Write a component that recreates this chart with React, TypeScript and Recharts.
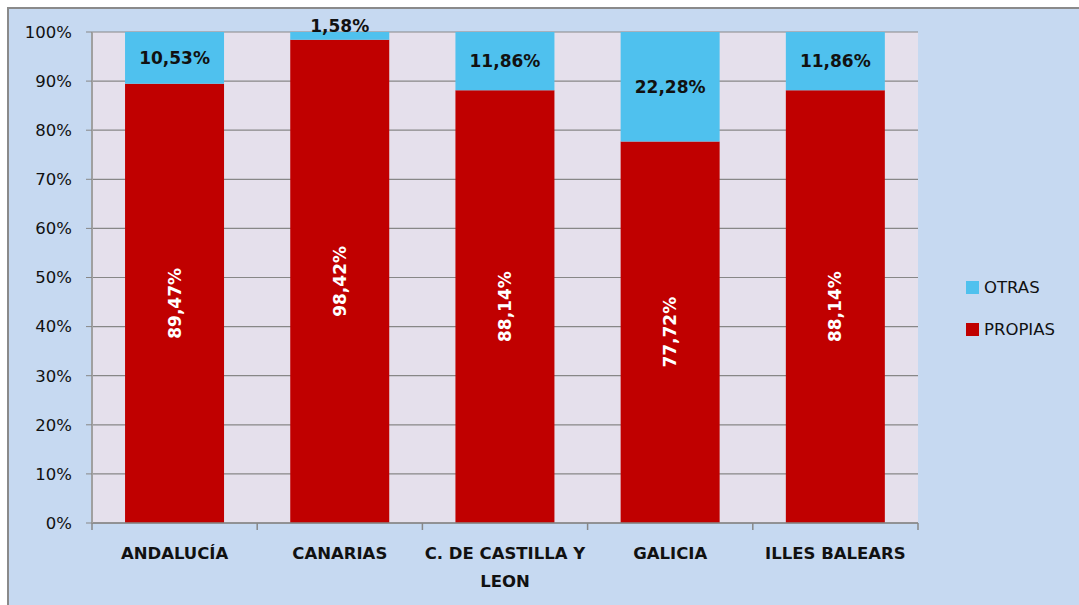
import React from 'react';
import { BarChart, Bar, XAxis, YAxis, CartesianGrid, Legend, LabelList, Text } from 'recharts';

const categories = ['ANDALUCÍA', 'CANARIAS', 'C. DE CASTILLA Y LEON', 'GALICIA', 'ILLES BALEARS'];
const propias = [89.47, 98.42, 88.14, 77.72, 88.14];
const otras = [10.53, 1.58, 11.86, 22.28, 11.86];
const yTicks = [0, 10, 20, 30, 40, 50, 60, 70, 80, 90, 100];
const legendOrder = ['OTRAS', 'PROPIAS'];

const data = categories.map((name, i) => ({ name, PROPIAS: propias[i], OTRAS: otras[i] }));

const FONT = '"DejaVu Sans", sans-serif';
const fmt = (v: number) => v.toFixed(2).replace('.', ',') + '%';

const XTick = (props: any) => {
  const { x, y, payload, index } = props;
  const off = payload && typeof payload.offset === 'number' ? payload.offset : 82.6;
  return (
    <g>
      <line x1={x - off} y1={y} x2={x - off} y2={y + 7} stroke="#878787" strokeWidth={1.5} />
      {index === categories.length - 1 && (
        <line x1={x + off} y1={y} x2={x + off} y2={y + 7} stroke="#878787" strokeWidth={1.5} />
      )}
      <Text
        x={x}
        y={y + 24}
        width={158}
        textAnchor="middle"
        verticalAnchor="start"
        lineHeight={28}
        fontFamily={FONT}
        fontWeight="bold"
        fontSize={16.5}
        fill="#111"
      >
        {payload.value}
      </Text>
    </g>
  );
};

const PropiasLabel = (props: any) => {
  const { x, y, width, height, value } = props;
  const cx = x + width / 2;
  const cy = y + height / 2;
  return (
    <text
      x={cx}
      y={cy}
      transform={`rotate(-90 ${cx} ${cy})`}
      textAnchor="middle"
      dominantBaseline="central"
      fontFamily={FONT}
      fontWeight="bold"
      fontSize={17}
      fill="#ffffff"
    >
      {fmt(value)}
    </text>
  );
};

const OtrasLabel = (props: any) => {
  const { x, y, width, height, value } = props;
  const cx = x + width / 2;
  const cy = height < 20 ? y - 6 : y + height / 2;
  return (
    <text
      x={cx}
      y={cy}
      textAnchor="middle"
      dominantBaseline="central"
      fontFamily={FONT}
      fontWeight="bold"
      fontSize={17}
      fill="#111"
    >
      {fmt(value)}
    </text>
  );
};

const LegendContent = (props: any) => {
  const items = [...(props.payload || [])].sort(
    (a: any, b: any) => legendOrder.indexOf(a.value) - legendOrder.indexOf(b.value)
  );
  return (
    <div style={{ fontFamily: FONT, fontSize: 16.5, color: '#111' }}>
      {items.map((it: any) => (
        <div key={it.value} style={{ display: 'flex', alignItems: 'center', height: 42 }}>
          <span style={{ display: 'inline-block', width: 13, height: 13, background: it.color, marginRight: 5 }} />
          <span>{it.value}</span>
        </div>
      ))}
    </div>
  );
};

export default function App() {
  return (
    <div
      style={{
        position: 'absolute',
        left: 7,
        top: 7,
        width: 1072,
        height: 598,
        overflow: 'hidden',
        background: '#c6d9f1',
        borderTop: '2px solid #8a8a8a',
        borderLeft: '2px solid #8a8a8a',
        boxSizing: 'border-box',
      }}
    >
      <BarChart
        width={1070}
        height={596}
        data={data}
        margin={{ top: 23, right: 161, left: 0, bottom: 0 }}
        barCategoryGap="20%"
      >
        <CartesianGrid vertical={false} stroke="#878787" strokeWidth={1.2} fill="#e5e0ec" />
        <XAxis
          dataKey="name"
          height={82}
          interval={0}
          axisLine={{ stroke: '#878787', strokeWidth: 1.5 }}
          tickLine={false}
          tickSize={0}
          tickMargin={0}
          tick={<XTick />}
        />
        <YAxis
          width={83}
          domain={[0, 100]}
          ticks={yTicks}
          interval={0}
          tickFormatter={(v: number) => v + '%'}
          axisLine={{ stroke: '#a0a0a0', strokeWidth: 2 }}
          tickLine={{ stroke: '#878787' }}
          tickSize={6}
          tickMargin={14}
          tick={{ fill: '#111', fontSize: 16.5, fontFamily: FONT }}
        />
        <Legend
          layout="vertical"
          align="center"
          verticalAlign="middle"
          content={<LegendContent />}
          wrapperStyle={{ left: 957, top: 257, width: 110 }}
        />
        <Bar dataKey="PROPIAS" stackId="a" fill="#c00000" isAnimationActive={false}>
          <LabelList dataKey="PROPIAS" content={<PropiasLabel />} />
        </Bar>
        <Bar dataKey="OTRAS" stackId="a" fill="#4fc1ee" isAnimationActive={false}>
          <LabelList dataKey="OTRAS" content={<OtrasLabel />} />
        </Bar>
      </BarChart>
    </div>
  );
}
